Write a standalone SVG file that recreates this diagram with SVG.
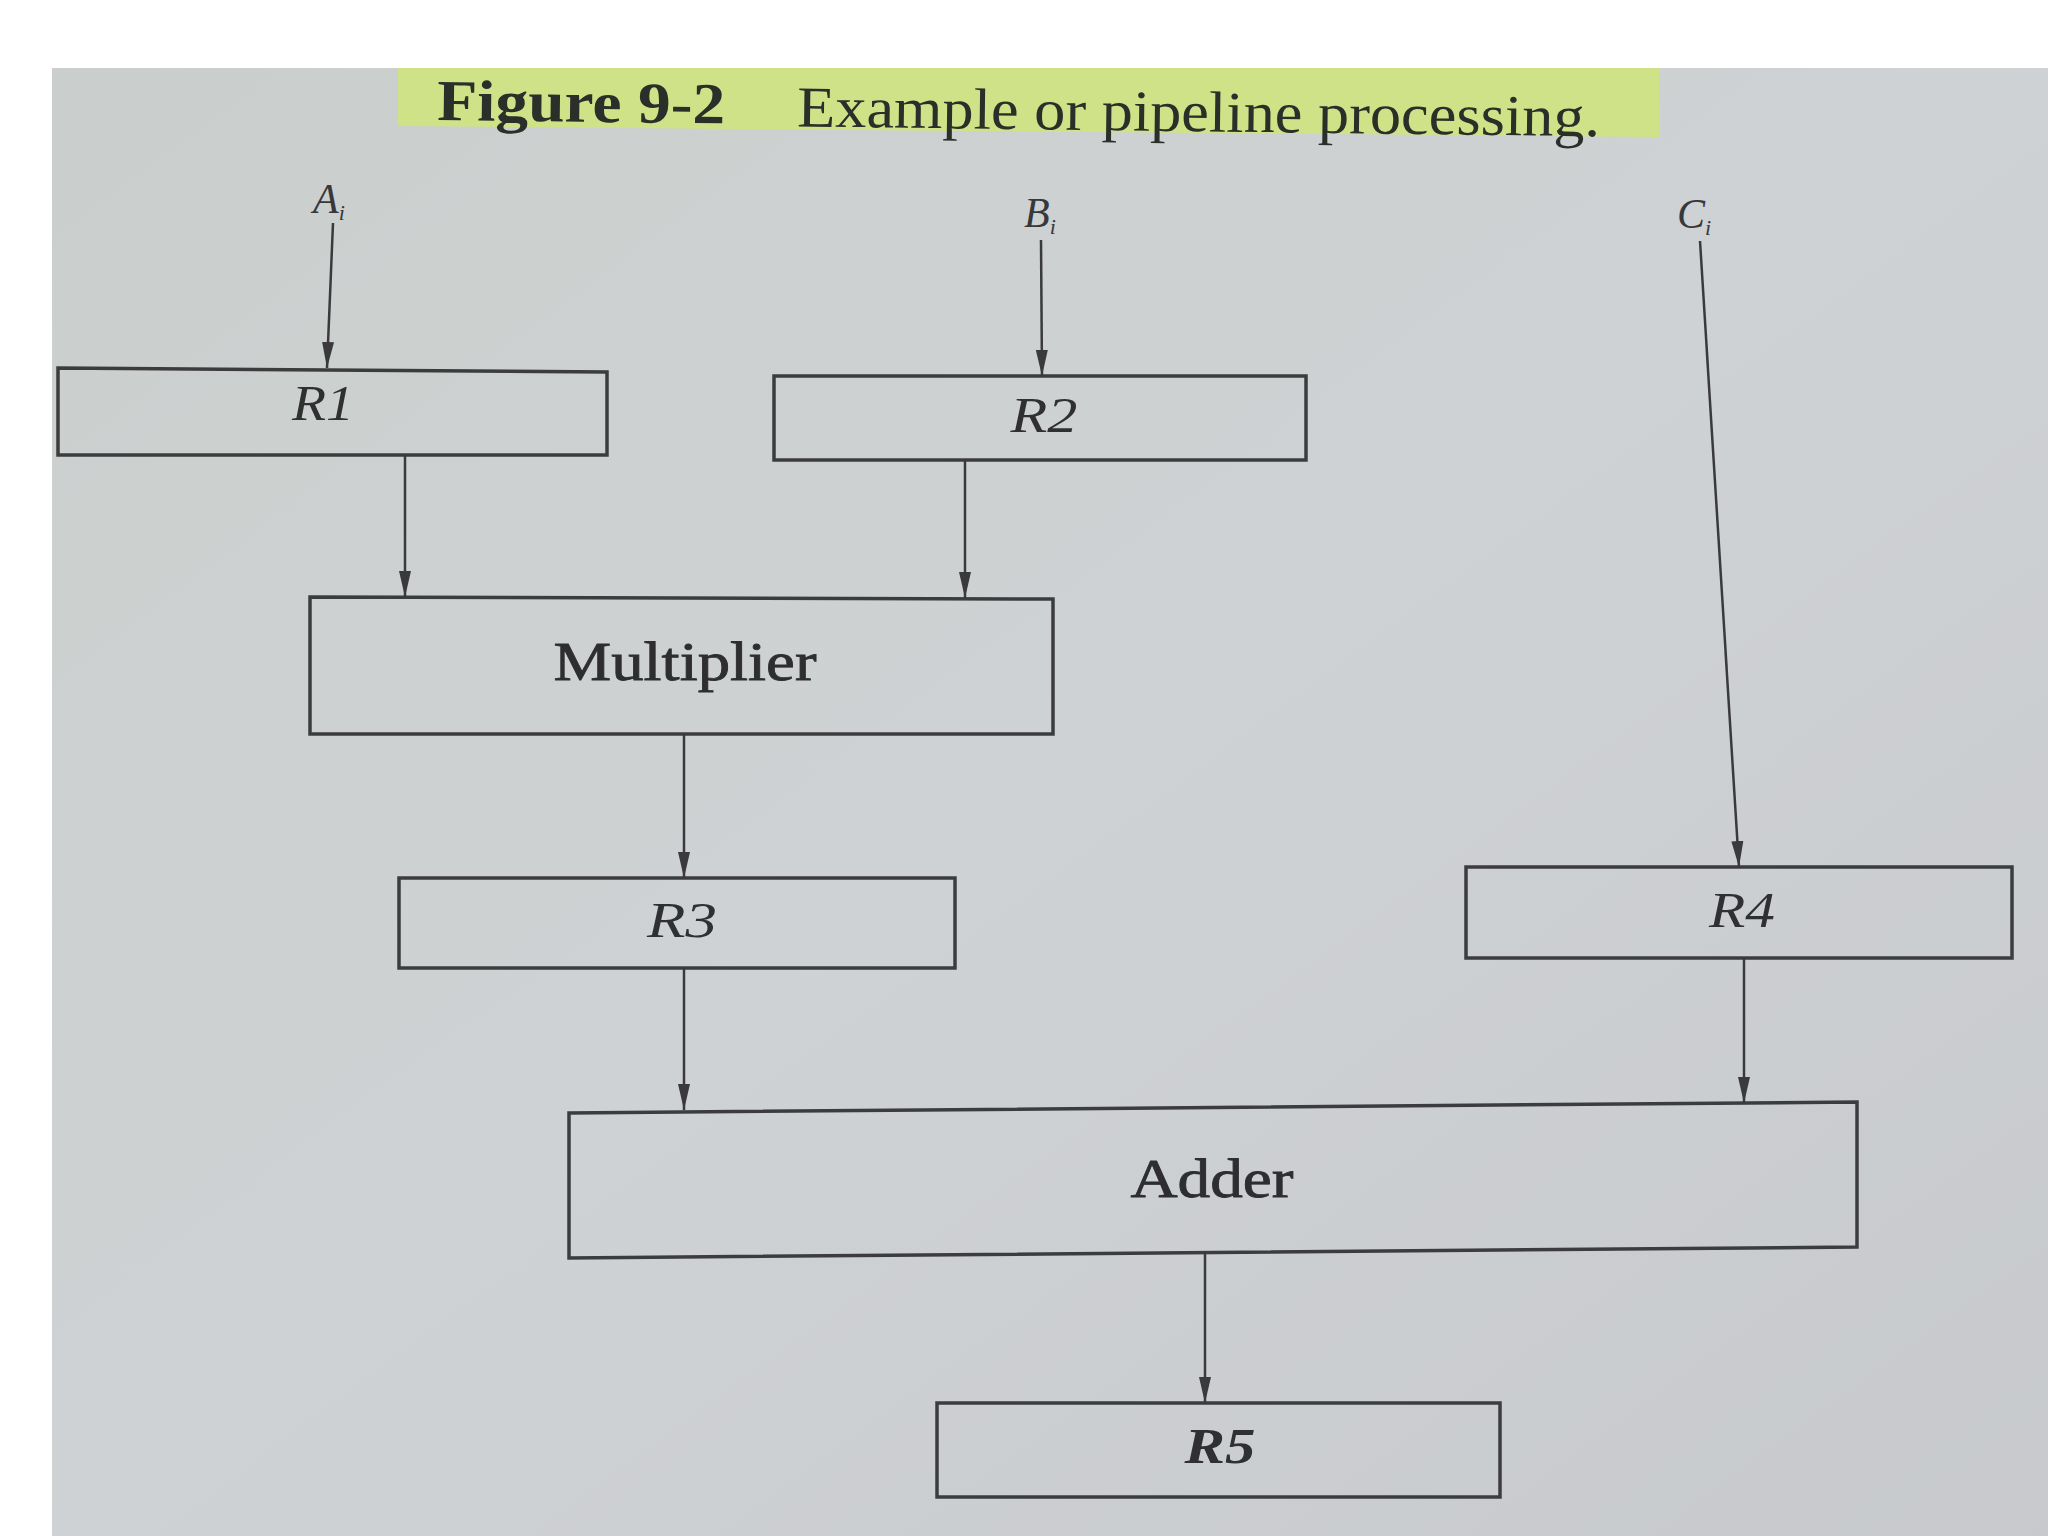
<svg xmlns="http://www.w3.org/2000/svg" width="2048" height="1536" viewBox="0 0 2048 1536">
  <defs>
    <linearGradient id="page" x1="0" y1="0" x2="1" y2="1">
      <stop offset="0" stop-color="#cacfcd"/>
      <stop offset="0.5" stop-color="#cfd2d4"/>
      <stop offset="1" stop-color="#c7c9cc"/>
    </linearGradient>
    <marker id="arr" markerUnits="userSpaceOnUse" markerWidth="28" markerHeight="16" refX="26" refY="7" orient="auto">
      <path d="M0,1 L26,7 L0,13 z" fill="#3a3a3c"/>
    </marker>
    <style>
      .box { fill: none; stroke: #3c3c3e; stroke-width: 3.5; }
      .conn line { stroke: #3a3a3c; stroke-width: 2.5; marker-end: url(#arr); }
      .reg { font-family: "Liberation Serif", "Times New Roman", serif; font-style: italic; font-size: 50px; fill: #303032; text-anchor: middle; }
      .blk { font-family: "Liberation Serif", "Times New Roman", serif; font-size: 54px; fill: #2e2e30; stroke: #2e2e30; stroke-width: 0.8; text-anchor: middle; }
      .inp { font-family: "Liberation Serif", "Times New Roman", serif; font-style: italic; font-size: 42px; fill: #38383a; }
      .sub { font-size: 22px; }
      .title { font-family: "Liberation Serif", "Times New Roman", serif; font-size: 58px; fill: #2c2e2a; }
    </style>
  </defs>

  <rect x="0" y="0" width="2048" height="1536" fill="#ffffff"/>
  <rect x="52" y="68" width="1996" height="1468" fill="url(#page)"/>

  <g id="title">
    <polygon points="398,68 1659,68 1659,137 398,126" fill="#cfe288"/>
    <g transform="rotate(0.7 437 120)">
      <text class="title" x="437" y="120" font-weight="bold" textLength="288" lengthAdjust="spacingAndGlyphs">Figure 9-2</text>
      <text class="title" x="797" y="122" textLength="803" lengthAdjust="spacingAndGlyphs">Example or pipeline processing.</text>
    </g>
  </g>

  <g id="input-A"><text class="inp" x="313" y="213">A<tspan class="sub" dy="7">i</tspan></text></g>
  <g id="input-B"><text class="inp" x="1024" y="227">B<tspan class="sub" dy="7">i</tspan></text></g>
  <g id="input-C"><text class="inp" x="1677" y="228">C<tspan class="sub" dy="7">i</tspan></text></g>

  <g id="R1">
    <polygon class="box" points="58,368 607,372 607,455 58,455"/>
    <text class="reg" x="323" y="420" textLength="62" lengthAdjust="spacingAndGlyphs">R1</text>
  </g>
  <g id="R2">
    <rect class="box" x="774" y="376" width="532" height="84"/>
    <text class="reg" x="1044" y="432" textLength="67" lengthAdjust="spacingAndGlyphs">R2</text>
  </g>
  <g id="Multiplier">
    <polygon class="box" points="310,597 1053,599 1053,734 310,734"/>
    <text class="blk" x="685" y="680" textLength="263" lengthAdjust="spacingAndGlyphs">Multiplier</text>
  </g>
  <g id="R3">
    <rect class="box" x="399" y="878" width="556" height="90"/>
    <text class="reg" x="682" y="937" textLength="70" lengthAdjust="spacingAndGlyphs">R3</text>
  </g>
  <g id="R4">
    <rect class="box" x="1466" y="867" width="546" height="91"/>
    <text class="reg" x="1742" y="927" textLength="66" lengthAdjust="spacingAndGlyphs">R4</text>
  </g>
  <g id="Adder">
    <polygon class="box" points="569,1113 1857,1102 1857,1247 569,1258"/>
    <text class="blk" x="1212" y="1197" textLength="163" lengthAdjust="spacingAndGlyphs">Adder</text>
  </g>
  <g id="R5">
    <rect class="box" x="937" y="1403" width="563" height="94"/>
    <text class="reg" x="1220" y="1463" textLength="71" lengthAdjust="spacingAndGlyphs" font-weight="bold">R5</text>
  </g>

  <g id="connectors" class="conn">
    <line x1="333" y1="223" x2="327" y2="368"/>
    <line x1="1041" y1="240" x2="1042" y2="376"/>
    <line x1="1700" y1="241" x2="1739" y2="867"/>
    <line x1="405" y1="455" x2="405" y2="597"/>
    <line x1="965" y1="460" x2="965" y2="598"/>
    <line x1="684" y1="734" x2="684" y2="878"/>
    <line x1="684" y1="968" x2="684" y2="1110"/>
    <line x1="1744" y1="958" x2="1744" y2="1103"/>
    <line x1="1205" y1="1253" x2="1205" y2="1403"/>
  </g>
</svg>
